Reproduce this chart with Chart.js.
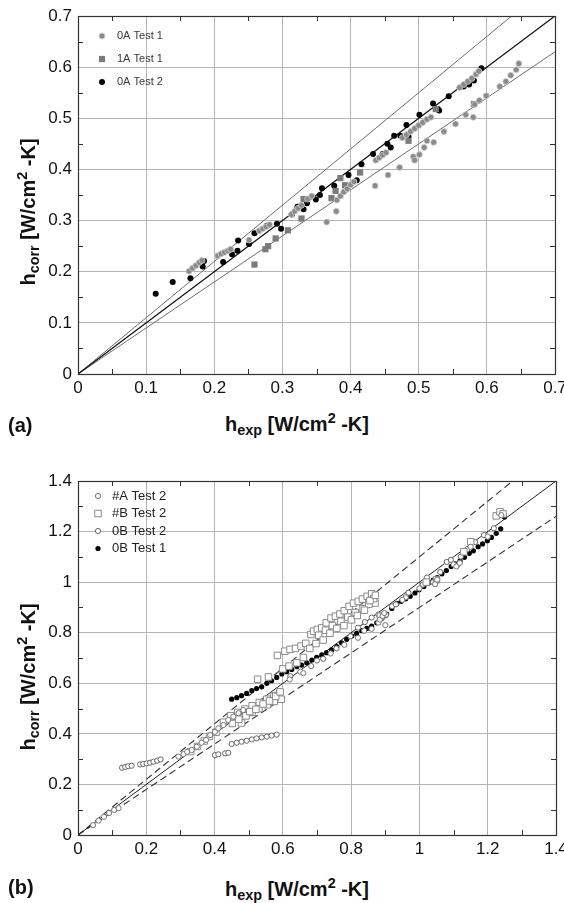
<!DOCTYPE html>
<html>
<head>
<meta charset="utf-8">
<script src="https://cdn.jsdelivr.net/npm/chart.js@4.4.1/dist/chart.umd.min.js"></script>
<style>
  body { margin: 0; background: #fff; width: 564px; height: 903px; position: relative; overflow: hidden;
         font-family: "Liberation Sans", Arial, sans-serif; color: #111; }
  .box { position: absolute; left: 0; width: 564px; height: 400px; }
  .xt, .yt, .tag { position: absolute; font-weight: bold; font-size: 20px; white-space: nowrap; line-height: 1; }
  .xt { transform: translate(-50%, -50%); }
  .yt { transform: translate(-50%, -50%) rotate(-90deg); }
  .tag { transform: translateY(-50%); }
  sub { font-size: 72%; vertical-align: -0.3em; }
  sup { font-size: 72%; vertical-align: 0.55em; }
</style>
</head>
<body>
<div class="box" style="top:0"><canvas id="chartA" width="564" height="400"></canvas></div>
<div class="box" style="top:465px"><canvas id="chartB" width="564" height="400"></canvas></div>

<div class="yt" style="left:28px; top:212px">h<sub>corr</sub> [W/cm<sup>2</sup> -K]</div>
<div class="xt" style="left:297px; top:424px">h<sub>exp</sub> [W/cm<sup>2</sup> -K]</div>
<div class="tag" style="left:8px; top:425px">(a)</div>

<div class="yt" style="left:28px; top:677px">h<sub>corr</sub> [W/cm<sup>2</sup> -K]</div>
<div class="xt" style="left:297px; top:889px">h<sub>exp</sub> [W/cm<sup>2</sup> -K]</div>
<div class="tag" style="left:8px; top:887px">(b)</div>

<script>
// ===== PANEL (a) DATA =====
const ticksA = [0, 0.1, 0.2, 0.3, 0.4, 0.5, 0.6, 0.7];
const minorA = [0.05, 0.15, 0.25, 0.35, 0.45, 0.55, 0.65];

const a0Test1X = [0.163, 0.168, 0.173, 0.178, 0.182, 0.205, 0.210, 0.215, 0.220, 0.224, 0.251,
  0.266, 0.271, 0.276, 0.281, 0.313, 0.318, 0.323, 0.328, 0.337, 0.343,
  0.380, 0.385, 0.390, 0.395, 0.400, 0.405, 0.437, 0.442, 0.447, 0.452,
  0.476, 0.482, 0.488, 0.494, 0.500, 0.506, 0.512, 0.518, 0.560, 0.566, 0.572, 0.578, 0.584, 0.588,
  0.365, 0.379, 0.436, 0.455, 0.472, 0.492, 0.494, 0.501, 0.508, 0.512, 0.522, 0.537, 0.554,
  0.569, 0.580, 0.582, 0.589, 0.599, 0.619, 0.628, 0.635, 0.643, 0.647];
const a0Test1Y = [0.201, 0.207, 0.212, 0.218, 0.222, 0.231, 0.235, 0.238, 0.241, 0.244, 0.262,
  0.280, 0.284, 0.288, 0.292, 0.312, 0.318, 0.324, 0.330, 0.342, 0.348,
  0.340, 0.348, 0.356, 0.362, 0.370, 0.376, 0.418, 0.423, 0.428, 0.433,
  0.462, 0.468, 0.474, 0.480, 0.486, 0.492, 0.498, 0.502, 0.560, 0.566, 0.572, 0.578, 0.586, 0.592,
  0.297, 0.318, 0.368, 0.389, 0.404, 0.425, 0.418, 0.429, 0.443, 0.456, 0.453, 0.474, 0.489,
  0.507, 0.502, 0.527, 0.535, 0.544, 0.562, 0.572, 0.584, 0.595, 0.607];

const a1Test1X = [0.259, 0.275, 0.279, 0.290, 0.308, 0.328, 0.331, 0.372, 0.378, 0.385, 0.392, 0.414, 0.485, 0.525, 0.581];
const a1Test1Y = [0.214, 0.244, 0.250, 0.265, 0.281, 0.304, 0.342, 0.344, 0.358, 0.383, 0.369, 0.394, 0.456, 0.518, 0.528];

const a0Test2X = [0.114, 0.139, 0.165, 0.183, 0.185, 0.213, 0.226, 0.234, 0.235, 0.251, 0.259, 0.277, 0.292, 0.298,
  0.314, 0.322, 0.331, 0.336, 0.349, 0.355, 0.358, 0.376, 0.397, 0.409, 0.416, 0.433, 0.447, 0.454,
  0.459, 0.464, 0.473, 0.482, 0.485, 0.501, 0.521, 0.528, 0.530, 0.544, 0.566, 0.574, 0.581, 0.592];
const a0Test2Y = [0.157, 0.180, 0.187, 0.210, 0.221, 0.219, 0.234, 0.241, 0.261, 0.254, 0.275, 0.290, 0.294, 0.284,
  0.312, 0.327, 0.322, 0.334, 0.341, 0.350, 0.363, 0.368, 0.389, 0.379, 0.410, 0.430, 0.430, 0.450,
  0.443, 0.466, 0.466, 0.487, 0.464, 0.507, 0.529, 0.518, 0.515, 0.543, 0.562, 0.566, 0.574, 0.598];

const refXA = [0, 0.7];
const refMidA = [0, 0.7];
const refHighA = [0, 0.77];
const refLowA = [0, 0.63];

// ===== PANEL (b) DATA =====
const ticksB = [0, 0.2, 0.4, 0.6, 0.8, 1, 1.2, 1.4];
const minorB = [0.1, 0.3, 0.5, 0.7, 0.9, 1.1, 1.3];

const bATest2X = [0.044, 0.060, 0.076, 0.091, 0.106, 0.119,
  0.294, 0.309, 0.320, 0.333, 0.348, 0.362, 0.375, 0.387, 0.401, 0.411, 0.426, 0.440, 0.455, 0.470, 0.484,
  0.62, 0.66, 0.70, 0.74, 0.78, 0.82, 0.86, 0.88, 0.90, 0.95, 1.00, 1.05, 1.10, 1.15, 1.20, 1.24,
  0.884, 0.892, 0.897, 1.046, 1.052, 1.108, 1.118];
const bATest2Y = [0.039, 0.057, 0.072, 0.087, 0.099, 0.106,
  0.310, 0.320, 0.329, 0.336, 0.349, 0.365, 0.376, 0.395, 0.408, 0.422, 0.435, 0.455, 0.468, 0.482, 0.494,
  0.615, 0.640, 0.690, 0.718, 0.752, 0.780, 0.815, 0.840, 0.830, 0.930, 0.975, 1.005, 1.070, 1.140, 1.180, 1.265,
  0.852, 0.866, 0.878, 0.992, 1.010, 1.062, 1.076];

const bBTest2X = [0.526, 0.558, 0.584, 0.606, 0.621, 0.637, 0.653, 0.667, 0.682, 0.690, 0.701, 0.714, 0.727,
  0.741, 0.754, 0.767, 0.780, 0.794, 0.807, 0.821, 0.833, 0.847, 0.860, 0.870, 0.886,
  0.705, 0.725, 0.745, 0.770, 0.790, 0.812, 0.835, 0.852, 0.866,
  0.600, 0.618, 0.641, 0.660, 0.679, 0.697, 0.718, 0.738, 0.758, 0.779, 0.801, 0.818, 0.839, 0.855, 0.871,
  0.404, 0.426, 0.447, 0.468, 0.479, 0.489, 0.510, 0.531, 0.553, 0.574, 0.590, 0.595, 0.510, 0.530, 0.555, 0.575,
  0.452, 0.471, 0.492, 0.503, 0.521, 0.542, 0.561, 0.579, 0.592,
  0.330, 0.350, 0.370, 0.385, 1.020, 1.050, 1.130, 1.150, 1.225, 1.236, 1.245];
const bBTest2Y = [0.616, 0.625, 0.710, 0.727, 0.734, 0.738, 0.747, 0.758, 0.793, 0.806, 0.813, 0.819, 0.839,
  0.858, 0.865, 0.874, 0.887, 0.904, 0.917, 0.924, 0.933, 0.944, 0.954, 0.917, 0.865,
  0.790, 0.810, 0.828, 0.845, 0.862, 0.880, 0.895, 0.912, 0.935,
  0.657, 0.668, 0.681, 0.702, 0.738, 0.757, 0.771, 0.798, 0.817, 0.828, 0.851, 0.868, 0.889, 0.927, 0.948,
  0.406, 0.446, 0.472, 0.485, 0.443, 0.498, 0.511, 0.524, 0.537, 0.550, 0.560, 0.537, 0.485, 0.500, 0.515, 0.528,
  0.441, 0.458, 0.471, 0.488, 0.497, 0.518, 0.530, 0.548, 0.566,
  0.330, 0.350, 0.372, 0.390, 1.000, 1.010, 1.120, 1.160, 1.262, 1.278, 1.270];

const b0Test2X = [0.129, 0.138, 0.147, 0.157, 0.182, 0.191, 0.201, 0.211, 0.221, 0.232, 0.242,
  0.401, 0.411, 0.431, 0.440, 0.450, 0.465, 0.479, 0.494, 0.509, 0.523, 0.538, 0.553, 0.567, 0.582,
  0.82, 0.84, 0.86, 0.88, 0.90, 0.92, 0.96, 1.01, 1.04, 1.08, 1.11, 1.14,
  0.622, 0.651, 0.683, 0.718, 0.757, 0.798, 0.838, 0.902, 0.931, 0.968, 1.022, 1.061,
  1.092, 1.121, 1.163, 1.189, 1.218, 1.243];
const b0Test2Y = [0.266, 0.269, 0.272, 0.274, 0.279, 0.281, 0.283, 0.286, 0.290, 0.294, 0.299,
  0.316, 0.319, 0.323, 0.325, 0.360, 0.365, 0.369, 0.373, 0.378, 0.382, 0.386, 0.389, 0.393, 0.397,
  0.820, 0.842, 0.860, 0.872, 0.868, 0.905, 0.940, 0.990, 1.000, 1.080, 1.065, 1.130,
  0.628, 0.646, 0.668, 0.697, 0.738, 0.786, 0.808, 0.871, 0.912, 0.958, 1.018, 1.040,
  1.088, 1.101, 1.158, 1.186, 1.213, 1.272];

const b0Test1X = [0.450, 0.465, 0.479, 0.494, 0.509, 0.523, 0.538, 0.553, 0.567, 0.582, 0.597, 0.611, 0.626,
  0.641, 0.655, 0.670, 0.685, 0.699, 0.714, 0.728, 0.743, 0.758, 0.772, 0.787, 0.802, 0.816, 0.831,
  0.846, 0.860, 0.875, 0.890, 0.904, 0.919, 0.934, 0.947, 0.960, 0.973, 0.987, 0.999, 1.013, 1.026,
  1.040, 1.052, 1.066, 1.079, 1.093, 1.105, 1.119, 1.132, 1.146, 1.158, 1.172, 1.185, 1.199, 1.211,
  1.225, 1.238, 1.249];
const b0Test1Y = [0.537, 0.543, 0.551, 0.560, 0.571, 0.579, 0.586, 0.600, 0.610, 0.623, 0.637, 0.646, 0.655,
  0.666, 0.672, 0.681, 0.692, 0.703, 0.712, 0.721, 0.732, 0.745, 0.760, 0.774, 0.787, 0.797, 0.808,
  0.817, 0.826, 0.839, 0.857, 0.874, 0.896, 0.916, 0.924, 0.934, 0.944, 0.957, 0.970, 0.983, 0.996,
  1.007, 1.018, 1.033, 1.046, 1.062, 1.072, 1.084, 1.098, 1.114, 1.124, 1.140, 1.151, 1.164, 1.177,
  1.193, 1.211, 1.258];

const refXB = [0, 1.4];
const refMidB = [0, 1.4];
const refHighB = [0, 1.54];
const refLowB = [0, 1.26];

// ===== HELPERS =====
const pts = (xs, ys) => xs.map((x, i) => ({ x: x, y: ys[i] }));
const tickFont = { family: '"Liberation Sans", Arial, sans-serif', size: 17 };

// inward minor ticks on all four sides + dark frame
const frameTicks = {
  id: 'frameTicks',
  afterDatasetsDraw(chart, args, opts) {
    const { ctx, chartArea: a, scales: { x, y } } = chart;
    ctx.save();
    ctx.strokeStyle = '#333';
    ctx.lineWidth = 1;
    ctx.beginPath();
    opts.minor.forEach(v => {
      const px = Math.round(x.getPixelForValue(v)) + 0.5;
      ctx.moveTo(px, a.bottom); ctx.lineTo(px, a.bottom - 5);
      ctx.moveTo(px, a.top); ctx.lineTo(px, a.top + 5);
      const py = Math.round(y.getPixelForValue(v)) + 0.5;
      ctx.moveTo(a.left, py); ctx.lineTo(a.left + 5, py);
      ctx.moveTo(a.right, py); ctx.lineTo(a.right - 5, py);
    });
    ctx.stroke();
    ctx.lineWidth = 1.2;
    ctx.strokeRect(Math.round(a.left) + 0.5, Math.round(a.top) + 0.5,
      Math.round(a.right - a.left), Math.round(a.bottom - a.top));
    ctx.restore();
  }
};

// legend drawn inside the plot, top-left
const insideLegend = {
  id: 'insideLegend',
  afterDraw(chart, args, opts) {
    const { ctx, chartArea: a } = chart;
    ctx.save();
    ctx.font = opts.size + 'px "Liberation Sans", Arial, sans-serif';
    ctx.textBaseline = 'middle';
    chart.data.datasets.filter(d => d.label).forEach((d, i) => {
      const mx = a.left + opts.dx, my = a.top + opts.dy + i * opts.gap;
      ctx.fillStyle = d.pointBackgroundColor;
      ctx.strokeStyle = d.pointBorderColor;
      ctx.lineWidth = 1;
      ctx.beginPath();
      if (d.pointStyle === 'rect') {
        const s = d.pointRadius * Math.SQRT1_2;
        ctx.rect(mx - s, my - s, 2 * s, 2 * s);
      } else {
        ctx.arc(mx, my, d.pointRadius, 0, Math.PI * 2);
      }
      ctx.fill();
      if (d.pointBorderWidth > 0) ctx.stroke();
      ctx.fillStyle = opts.color;
      ctx.fillText(d.label, mx + opts.textGap, my);
    });
    ctx.restore();
  }
};

function axis(min, max, tickVals, fitSize, isX) {
  return {
    type: 'linear', min: min, max: max,
    afterBuildTicks: s => { s.ticks = tickVals.map(v => ({ value: v })); },
    afterFit: s => {
      if (isX) s.height = fitSize; else s.width = fitSize;
      s.paddingLeft = 0; s.paddingRight = 0; s.paddingTop = 0; s.paddingBottom = 0;
    },
    ticks: { callback: v => String(+v.toFixed(2)), font: tickFont, color: '#111',
             padding: isX ? 4 : 6, maxRotation: 0, autoSkip: false },
    grid: { color: '#b4b4b4', lineWidth: 1, drawTicks: false },
    border: { color: '#333', width: 1 }
  };
}

function refLine(xs, ys, color, width, dash) {
  return { data: pts(xs, ys), showLine: true, pointRadius: 0, borderColor: color,
           borderWidth: width, borderDash: dash, order: 10 };
}

// ===== CHART (a) =====
const chartA = new Chart(document.getElementById('chartA'), {
  type: 'scatter',
  data: {
    datasets: [
      { label: '0A Test 1', data: pts(a0Test1X, a0Test1Y), pointStyle: 'circle', pointRadius: 3,
        pointBackgroundColor: '#8a8a8a', pointBorderColor: '#cfcfcf', pointBorderWidth: 0.8 },
      { label: '1A Test 1', data: pts(a1Test1X, a1Test1Y), pointStyle: 'rect', pointRadius: 4.4,
        pointBackgroundColor: '#7b7b7b', pointBorderColor: '#7b7b7b', pointBorderWidth: 0 },
      { label: '0A Test 2', data: pts(a0Test2X, a0Test2Y), pointStyle: 'circle', pointRadius: 3,
        pointBackgroundColor: '#000', pointBorderColor: '#000', pointBorderWidth: 0 },
      refLine(refXA, refMidA, '#111', 1.3, []),
      refLine(refXA, refHighA, '#6e6e6e', 1, []),
      refLine(refXA, refLowA, '#6e6e6e', 1, [])
    ]
  },
  options: {
    responsive: false, animation: false,
    layout: { padding: { top: 16, right: 9, left: 0, bottom: 0 } },
    plugins: {
      legend: { display: false }, tooltip: { enabled: false },
      frameTicks: { minor: minorA },
      insideLegend: { dx: 24, dy: 20, gap: 23, textGap: 15, size: 11, color: '#3a3a3a' }
    },
    scales: { x: axis(0, 0.7, ticksA, 26, true), y: axis(0, 0.7, ticksA, 78, false) }
  },
  plugins: [frameTicks, insideLegend]
});

// ===== CHART (b) =====
const chartB = new Chart(document.getElementById('chartB'), {
  type: 'scatter',
  data: {
    datasets: [
      { label: '#A Test 2', data: pts(bATest2X, bATest2Y), pointStyle: 'circle', pointRadius: 2.6,
        pointBackgroundColor: '#fff', pointBorderColor: '#777', pointBorderWidth: 1 },
      { label: '#B Test 2', data: pts(bBTest2X, bBTest2Y), pointStyle: 'rect', pointRadius: 4.6,
        pointBackgroundColor: '#fff', pointBorderColor: '#8a8a8a', pointBorderWidth: 1 },
      { label: '0B Test 2', data: pts(b0Test2X, b0Test2Y), pointStyle: 'circle', pointRadius: 2.6,
        pointBackgroundColor: '#fff', pointBorderColor: '#666', pointBorderWidth: 1 },
      { label: '0B Test 1', data: pts(b0Test1X, b0Test1Y), pointStyle: 'circle', pointRadius: 2.6,
        pointBackgroundColor: '#000', pointBorderColor: '#000', pointBorderWidth: 0 },
      refLine(refXB, refMidB, '#222', 1, []),
      refLine(refXB, refHighB, '#333', 1.1, [7, 4]),
      refLine(refXB, refLowB, '#333', 1.1, [7, 4])
    ]
  },
  options: {
    responsive: false, animation: false,
    layout: { padding: { top: 16, right: 8, left: 0, bottom: 0 } },
    plugins: {
      legend: { display: false }, tooltip: { enabled: false },
      frameTicks: { minor: minorB },
      insideLegend: { dx: 20, dy: 15, gap: 17.5, textGap: 14, size: 13, color: '#222' }
    },
    scales: { x: axis(0, 1.4, ticksB, 30, true), y: axis(0, 1.4, ticksB, 78, false) }
  },
  plugins: [frameTicks, insideLegend]
});
</script>
</body>
</html>
